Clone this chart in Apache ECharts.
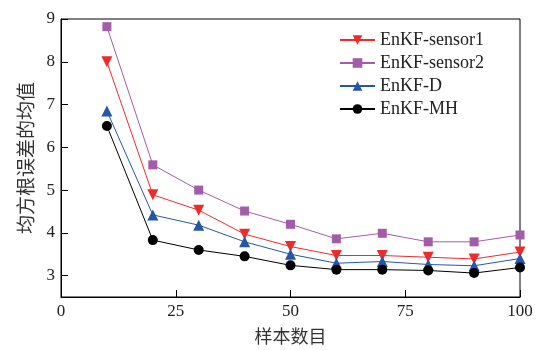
<!DOCTYPE html>
<html><head><meta charset="utf-8">
<script src="https://cdn.jsdelivr.net/npm/echarts@6/dist/echarts.min.js"></script>
<style>html,body{margin:0;padding:0;background:#fff}#c{width:538px;height:350px}</style>
</head><body><div id="c"></div>
<script>
var xValues = [10, 20, 30, 40, 50, 60, 70, 80, 90, 100];
var sensor1 = [8.0, 4.89, 4.53, 3.97, 3.68, 3.47, 3.47, 3.43, 3.39, 3.55];
var sensor2 = [8.82, 5.59, 5.0, 4.51, 4.2, 3.86, 3.99, 3.79, 3.79, 3.95];
var enkfD = [6.85, 4.42, 4.18, 3.79, 3.5, 3.29, 3.33, 3.26, 3.23, 3.4];
var enkfMH = [6.5, 3.83, 3.6, 3.45, 3.24, 3.14, 3.14, 3.12, 3.06, 3.19];
var yTicks = [3, 4, 5, 6, 7, 8, 9];
var xTicks = [0, 25, 50, 75, 100];
var seriesNames = ['EnKF-sensor1', 'EnKF-sensor2', 'EnKF-D', 'EnKF-MH'];

function pairs(arr){ return arr.map(function(v,i){ return [xValues[i], v]; }); }
var serif = '"Liberation Serif", "Times New Roman", serif';
var cjk = '"Noto Sans CJK SC", sans-serif';

var chart = echarts.init(document.getElementById('c'), null, {renderer:'canvas'});
function mk(name, data, color, symbol, size, rot){
  return {name:name, type:'line', data:pairs(data), symbol:symbol, symbolSize:size, symbolRotate:rot||0,
    lineStyle:{color:color, width:1}, itemStyle:{color:color}, animation:false};
}
chart.setOption({
  animation:false,
  grid:{left:61, right:18, top:19, bottom:51, show:true, borderColor:'#000', borderWidth:1, containLabel:false},
  legend:{orient:'vertical', left:334, top:26, itemWidth:35, itemHeight:12, itemGap:5,
    textStyle:{fontFamily:serif, fontSize:18, color:'#222'}, data:seriesNames},
  xAxis:{type:'value', min:0, max:100, interval:25,
    name:'样本数目', nameLocation:'middle', nameGap:30,
    nameTextStyle:{fontFamily:cjk, fontSize:18, color:'#333'},
    axisLine:{show:true, lineStyle:{color:'#000', width:1}},
    axisTick:{show:true, inside:true, length:7, lineStyle:{color:'#000'}},
    axisLabel:{fontFamily:serif, fontSize:17, color:'#222', margin:6, customValues:xTicks},
    splitLine:{show:false}},
  yAxis:{type:'value', min:2.5, max:9,
    name:'均方根误差的均值', nameLocation:'middle', nameGap:24, nameRotate:90,
    nameTextStyle:{fontFamily:cjk, fontSize:19, color:'#333'},
    axisLine:{show:true, lineStyle:{color:'#000', width:1}},
    axisTick:{show:true, inside:true, length:7, lineStyle:{color:'#000'}, customValues:yTicks},
    axisLabel:{fontFamily:serif, fontSize:17, color:'#222', margin:6, customValues:yTicks},
    splitLine:{show:false}},
  series:[
    mk(seriesNames[0], sensor1, '#ee2b2b', 'triangle', 11, 180),
    mk(seriesNames[1], sensor2, '#a35ca9', 'rect', 9),
    mk(seriesNames[2], enkfD, '#2358a8', 'triangle', 11),
    mk(seriesNames[3], enkfMH, '#000000', 'circle', 10)
  ]
});
</script></body></html>
